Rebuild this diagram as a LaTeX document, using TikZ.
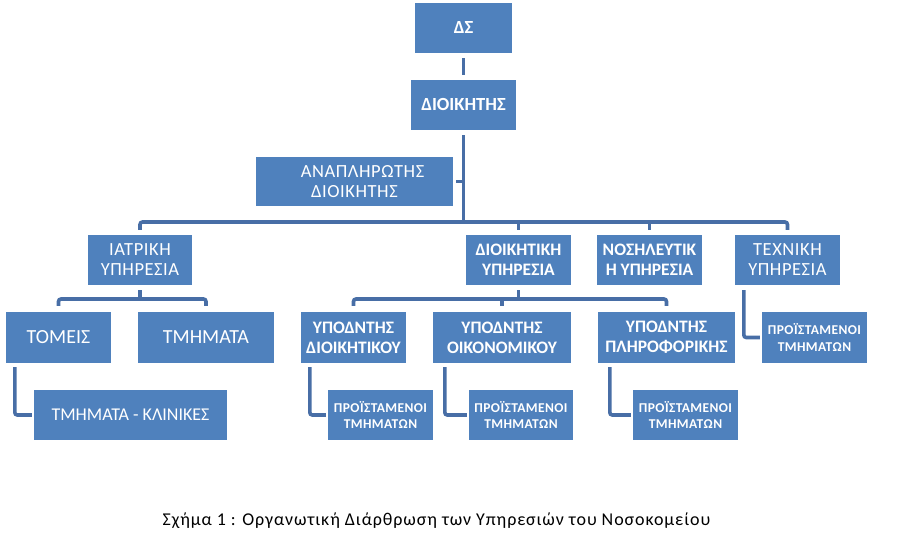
\documentclass[tikz,border=0pt]{standalone}
\usepackage{fontspec}
\setmainfont{Carlito}
\usetikzlibrary{calc}
\definecolor{boxblue}{RGB}{79,129,189}
\definecolor{lineblue}{RGB}{72,110,166}
\tikzset{
  box/.style={draw=none, fill=boxblue, text=white, align=center, inner sep=0pt,
    font=\fontsize{18.5}{20}\selectfont\addfontfeatures{LetterSpace=3}},
  boldbox/.style={box, font=\fontsize{17.5}{20}\selectfont\bfseries},
  topbox/.style={box, font=\fontsize{18.5}{20}\selectfont\bfseries},
  smallbox/.style={box, font=\fontsize{13.5}{16.5}\selectfont\bfseries\addfontfeatures{LetterSpace=3}},
  conn/.style={draw=lineblue, line width=3.6pt, rounded corners=2.5pt},
}
\begin{document}
\begin{tikzpicture}[x=1pt, y=-1pt]
\useasboundingbox (0,0) rectangle (903,553);
% top
\node[topbox, minimum width=97pt, minimum height=50pt] (ds) at (463.5,28) {ΔΣ};
\node[topbox, minimum width=105pt, minimum height=50pt] (dir) at (463.5,105) {ΔΙΟΙΚΗΤΗΣ};
\node[box, minimum width=197pt, minimum height=49pt] (dep) at (354.5,181.5) {\hspace*{16pt}ΑΝΑΠΛΗΡΩΤΗΣ\\ΔΙΟΙΚΗΤΗΣ};
% level 2
\node[box, minimum width=104pt, minimum height=50pt] (iatr) at (140,260) {ΙΑΤΡΙΚΗ\\ΥΠΗΡΕΣΙΑ};
\node[boldbox, minimum width=105pt, minimum height=50pt] (dioik) at (518.5,260) {ΔΙΟΙΚΗΤΙΚΗ\\ΥΠΗΡΕΣΙΑ};
\node[boldbox, minimum width=105pt, minimum height=50pt] (nos) at (649.5,260) {ΝΟΣΗΛΕΥΤΙΚ\\Η ΥΠΗΡΕΣΙΑ};
\node[box, minimum width=105pt, minimum height=50pt] (tech) at (787.5,260) {ΤΕΧΝΙΚΗ\\ΥΠΗΡΕΣΙΑ};
% level 3
\node[box, minimum width=105pt, minimum height=51pt, font=\fontsize{20}{24}\selectfont] (tom) at (58.5,337.5) {ΤΟΜΕΙΣ};
\node[box, minimum width=136pt, minimum height=51pt, font=\fontsize{20}{24}\selectfont] (tmi) at (206,337.5) {ΤΜΗΜΑΤΑ};
\node[box, minimum width=193pt, minimum height=50pt, font=\fontsize{18}{22}\selectfont] (klin) at (130.5,415) {ΤΜΗΜΑΤΑ - ΚΛΙΝΙΚΕΣ};
\node[boldbox, minimum width=105pt, minimum height=51pt] (ypd) at (353.5,337.5) {ΥΠΟΔΝΤΗΣ\\ΔΙΟΙΚΗΤΙΚΟΥ};
\node[boldbox, minimum width=138pt, minimum height=51pt] (ypo) at (502,337.5) {ΥΠΟΔΝΤΗΣ\\ΟΙΚΟΝΟΜΙΚΟΥ};
\node[boldbox, minimum width=137pt, minimum height=51pt] (ypp) at (666.5,337.5) {ΥΠΟΔΝΤΗΣ\\ΠΛΗΡΟΦΟΡΙΚΗΣ};
\node[smallbox, minimum width=105pt, minimum height=50pt] (pr1) at (380.5,415) {ΠΡΟΪΣΤΑΜΕΝΟΙ\\ΤΜΗΜΑΤΩΝ};
\node[smallbox, minimum width=104pt, minimum height=50pt] (pr2) at (521,415) {ΠΡΟΪΣΤΑΜΕΝΟΙ\\ΤΜΗΜΑΤΩΝ};
\node[smallbox, minimum width=105pt, minimum height=50pt] (pr3) at (685.5,415) {ΠΡΟΪΣΤΑΜΕΝΟΙ\\ΤΜΗΜΑΤΩΝ};
\node[smallbox, minimum width=105pt, minimum height=51pt] (pr4) at (814.5,337.5) {ΠΡΟΪΣΤΑΜΕΝΟΙ\\ΤΜΗΜΑΤΩΝ};
% bus coordinates
\coordinate (mainbus) at (0,222);
\coordinate (iatrbus) at (0,299);
\coordinate (dioikbus) at (0,299);
% connectors
\draw[conn] ([yshift=-5pt]ds.south) -- ([yshift=5pt]dir.north);
\draw[conn] ([yshift=-5pt]dir.south) -- (dir.south |- mainbus);
\draw[conn] ([xshift=3pt]dep.east) -- (dep.east -| dir.south);
\draw[conn] ([yshift=5pt]iatr.north) |- (tech.north |- mainbus) -- ([yshift=5pt]tech.north);
\draw[conn] ([yshift=5pt]dioik.north) -- (dioik.north |- mainbus);
\draw[conn] ([yshift=5pt]nos.north) -- (nos.north |- mainbus);
% iatriki children
\draw[conn] ([yshift=-5pt]iatr.south) -- (iatr.south |- iatrbus);
\draw[conn] ([yshift=6pt]tom.north) |- (tmi.north |- iatrbus) -- ([yshift=6pt]tmi.north);
% dioikitiki children
\draw[conn] ([yshift=-5pt]dioik.south) -- (dioik.south |- dioikbus);
\draw[conn] ([yshift=6pt]ypd.north) |- (ypp.north |- dioikbus) -- ([yshift=6pt]ypp.north);
\draw[conn] ([yshift=6pt]ypo.north) -- (ypo.north |- dioikbus);
% elbows
\draw[conn] ($(tom.south west)+(9,4)$) |- ([xshift=-2pt]klin.west);
\draw[conn] ($(ypd.south west)+(9,4)$) |- ([xshift=-2pt]pr1.west);
\draw[conn] ($(ypo.south west)+(12,4)$) |- ([xshift=-2pt]pr2.west);
\draw[conn] ($(ypp.south west)+(12,4)$) |- ([xshift=-2pt]pr3.west);
\draw[conn] ($(tech.south west)+(9,5)$) |- ([xshift=-2pt]pr4.west);
% caption
\node[font=\fontsize{18}{21}\selectfont\addfontfeatures{LetterSpace=5}, inner sep=0pt] (cap) at (436.5,521) {Σχήμα 1 : Οργανωτική Διάρθρωση των Υπηρεσιών του Νοσοκομείου};
\end{tikzpicture}
\end{document}
